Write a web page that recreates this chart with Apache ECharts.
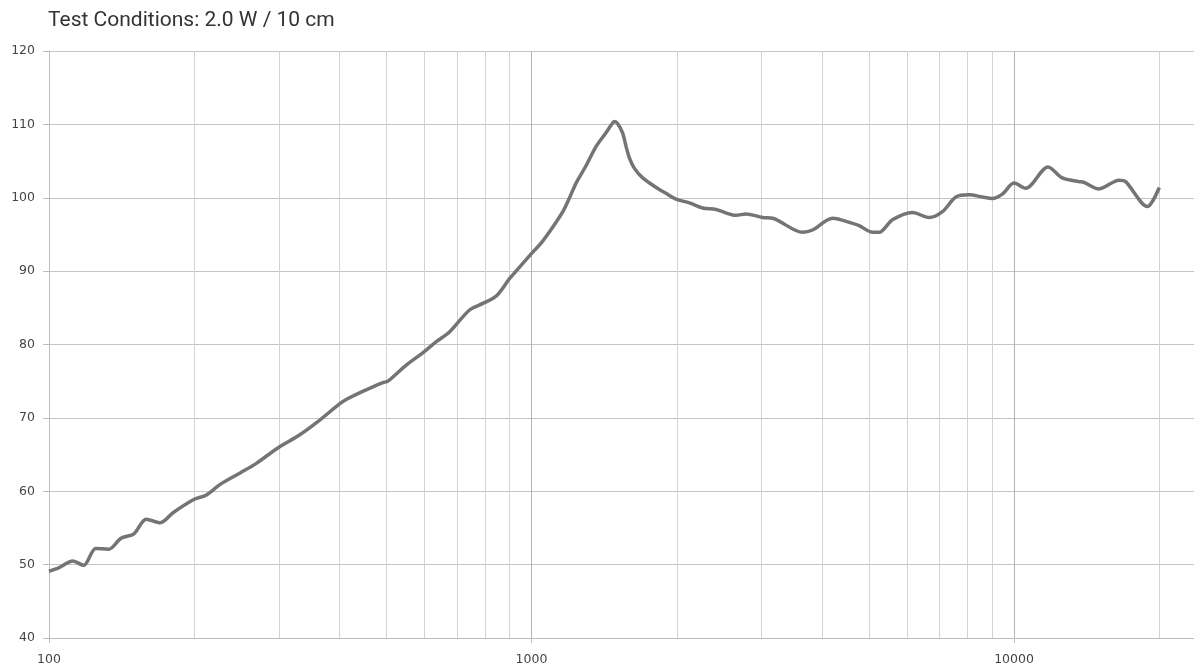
<!DOCTYPE html>
<html>
<head>
<meta charset="utf-8">
<script src="https://cdn.jsdelivr.net/npm/echarts@6/dist/echarts.min.js"></script>
<style>
html,body{margin:0;padding:0;background:#fff;overflow:hidden;}
#chart{width:1194px;height:667px;}
</style>
</head>
<body>
<div id="chart"></div>
<script>
const titleText = 'Test Conditions: 2.0 W / 10 cm';
const freqHz = [100,105,112,118,125,133,141,150,159,170,181,200,212,226,249,269,298,331,364,400,413,447,492,504,550,596,635,676,744,793,845,901,929,991,1055,1107,1161,1199,1237,1298,1361,1428,1462,1485,1509,1545,1570,1596,1634,1700,1813,1900,1993,2124,2263,2412,2653,2783,3012,3160,3646,3823,4206,4627,4775,5090,5254,5598,6157,6668,7105,7575,8071,8600,9018,9458,10000,10573,11762,12590,13632,13960,14997,16500,17030,18880,20000];
const splDb = [49.1,49.6,50.5,49.9,52.2,52.1,53.6,54.2,56.2,55.7,57.1,58.9,59.5,60.9,62.5,63.8,65.9,67.7,69.7,71.9,72.5,73.6,74.8,75.0,77.2,78.9,80.4,81.7,84.7,85.6,86.6,89.0,90.0,92.1,94.1,96.0,98.1,100.0,102.0,104.4,107.0,108.9,109.9,110.4,110.1,108.8,107.0,105.4,104.0,102.7,101.4,100.6,99.8,99.3,98.6,98.4,97.6,97.8,97.3,97.2,95.3,95.6,97.2,96.5,96.2,95.3,95.3,97.0,98.0,97.3,98.1,100.1,100.4,100.1,99.9,100.5,102.0,101.3,104.2,102.7,102.2,102.1,101.2,102.4,102.2,98.8,101.4];
const minorGridHz = [200,300,400,500,600,700,800,900,2000,3000,4000,5000,6000,7000,8000,9000,20000];
const xMin = 100, xMax = 23830;
const yMin = 40, yMax = 120, yStep = 10;

const chart = echarts.init(document.getElementById('chart'), null, {renderer:'canvas', width:1194, height:667});
const lineData = freqHz.map((f,i)=>[f, splDb[i]]);
chart.setOption({
  animation:false,
  backgroundColor:'#ffffff',
  title:{
    text:titleText, left:43, top:5,
    textStyle:{fontFamily:'Roboto', fontSize:21, fontWeight:'normal', color:'#333333'}
  },
  grid:{left:49, right:-2, top:51, bottom:29, containLabel:false, outerBoundsMode:'none'},
  xAxis:{
    type:'log', logBase:10, min:xMin, max:xMax,
    axisLine:{show:true, lineStyle:{color:'#bdbdbd', width:1}},
    axisTick:{show:true, length:5, lineStyle:{color:'#bdbdbd'}},
    axisLabel:{
      color:'#444444', fontFamily:'DejaVu Sans', fontSize:12.5, margin:15,
      formatter:function(v){ const l = Math.log10(v); return Math.abs(l-Math.round(l))<1e-6 ? String(Math.round(v)) : ''; }
    },
    splitLine:{show:true, lineStyle:{color:'#b4b4b4', width:1}}
  },
  yAxis:{
    type:'value', min:yMin, max:yMax, interval:yStep,
    axisLine:{show:true, lineStyle:{color:'#bdbdbd', width:1}},
    axisTick:{show:true, length:6, lineStyle:{color:'#bdbdbd'}},
    axisLabel:{color:'#444444', fontFamily:'DejaVu Sans', fontSize:12.5, margin:14},
    splitLine:{show:true, lineStyle:{color:'#c4c4c4', width:1}}
  },
  series:[
    {
      type:'line', data:[], z:1, silent:true,
      markLine:{
        silent:true, symbol:'none', animation:false,
        label:{show:false},
        lineStyle:{color:'#d2d2d2', width:1, type:'solid'},
        data: minorGridHz.map(f=>({xAxis:f}))
      }
    },
    {
      type:'line', data:lineData, z:5, smooth:0.3, showSymbol:false, symbol:'none',
      lineStyle:{color:'#747474', width:3.5}
    }
  ]
});
</script>
</body>
</html>
